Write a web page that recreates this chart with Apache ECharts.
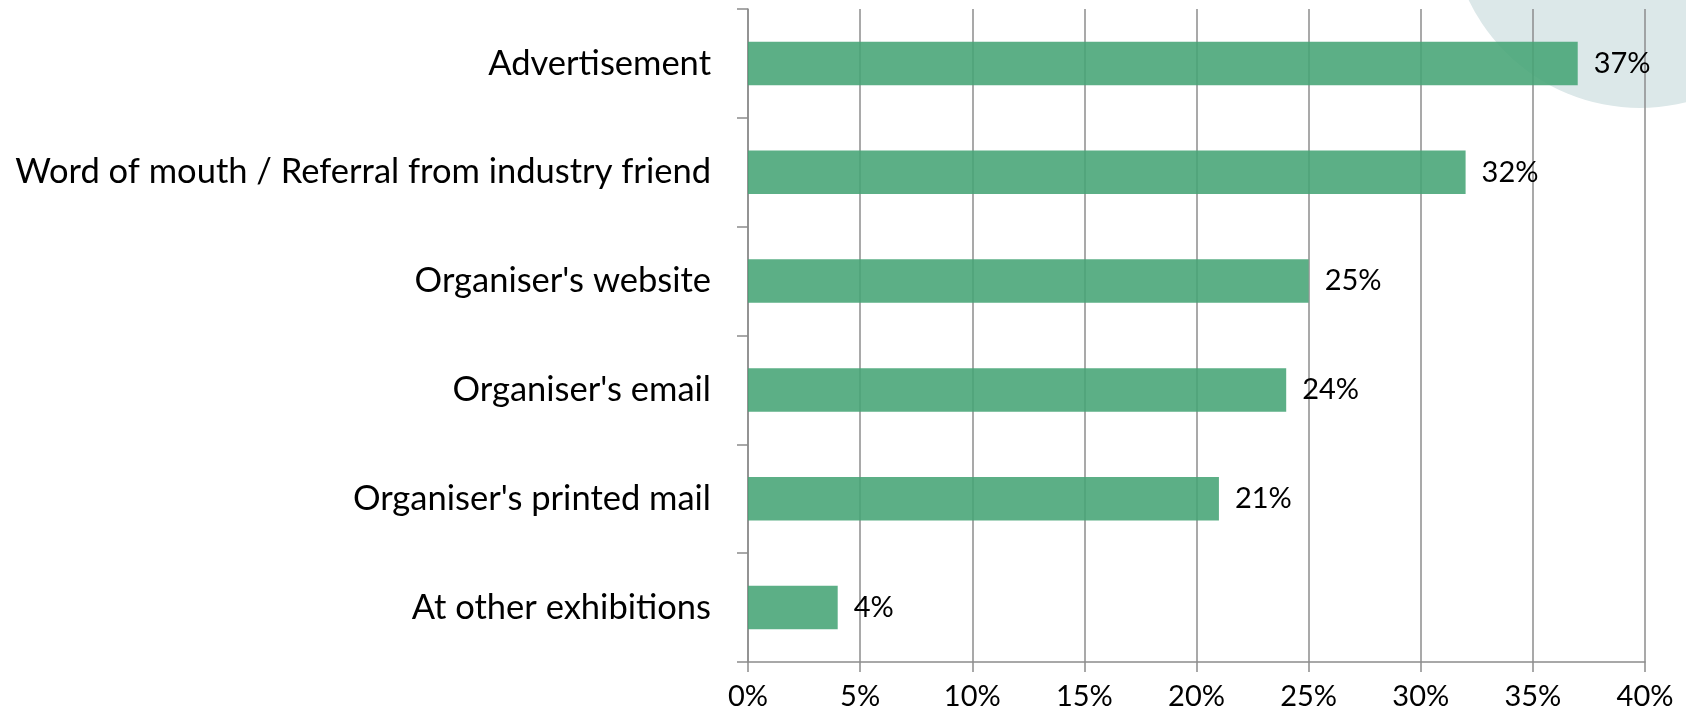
<!DOCTYPE html>
<html>
<head>
<meta charset="utf-8">
<title>How visitors heard about the exhibition</title>
<script src="https://cdn.jsdelivr.net/npm/echarts@6/dist/echarts.min.js"></script>
<style>
  html, body { margin: 0; padding: 0; background: #ffffff; }
  #chart { width: 1686px; height: 717px; }
</style>
</head>
<body>
<div id="chart"></div>
<script>
// Sources, listed top to bottom as they appear on the chart
const categories = [
  'Advertisement',
  'Word of mouth / Referral from industry friend',
  "Organiser's website",
  "Organiser's email",
  "Organiser's printed mail",
  'At other exhibitions'
];
// Share of respondents (%)
const shares = [37, 32, 25, 24, 21, 4];
// Value axis range and step (%)
const axisMin = 0;
const axisMax = 40;
const axisStep = 5;

const FONT = 'Lato';
const GREY = '#8c8c8c';

const chart = echarts.init(document.getElementById('chart'), null, { renderer: 'canvas' });

chart.setOption({
  animation: false,
  backgroundColor: '#ffffff',
  textStyle: { fontFamily: FONT },
  graphic: {
    elements: [{
      // decorative disc in the top-right corner, behind the plot
      type: 'circle',
      z: -10,
      silent: true,
      shape: { cx: 1640, cy: -82, r: 190 },
      style: { fill: '#dce8e9' }
    }]
  },
  grid: { left: 748, right: 41, top: 9, bottom: 55, containLabel: false },
  xAxis: {
    type: 'value',
    min: axisMin,
    max: axisMax,
    interval: axisStep,
    axisLine: { show: true, lineStyle: { color: GREY, width: 1.5 } },
    axisTick: { show: true, length: 10, lineStyle: { color: GREY, width: 1.5 } },
    splitLine: { show: true, lineStyle: { color: GREY, width: 1.5 } },
    axisLabel: {
      margin: 20,
      color: '#000000',
      fontFamily: FONT,
      fontSize: 29,
      formatter: v => v + '%'
    }
  },
  yAxis: {
    type: 'category',
    inverse: true,
    data: categories,
    axisLine: { show: true, lineStyle: { color: GREY, width: 1.5 } },
    axisTick: { show: true, length: 11, lineStyle: { color: GREY, width: 1.5 } },
    axisLabel: {
      margin: 37,
      color: '#000000',
      fontFamily: FONT,
      fontSize: 34.5
    }
  },
  series: [{
    type: 'bar',
    data: shares,
    barWidth: '40%',
    itemStyle: { color: 'rgba(70,164,117,0.88)' },
    label: {
      show: true,
      position: 'right',
      distance: 16,
      color: '#000000',
      fontFamily: FONT,
      fontSize: 29,
      formatter: p => p.value + '%'
    }
  }]
});
</script>
</body>
</html>
